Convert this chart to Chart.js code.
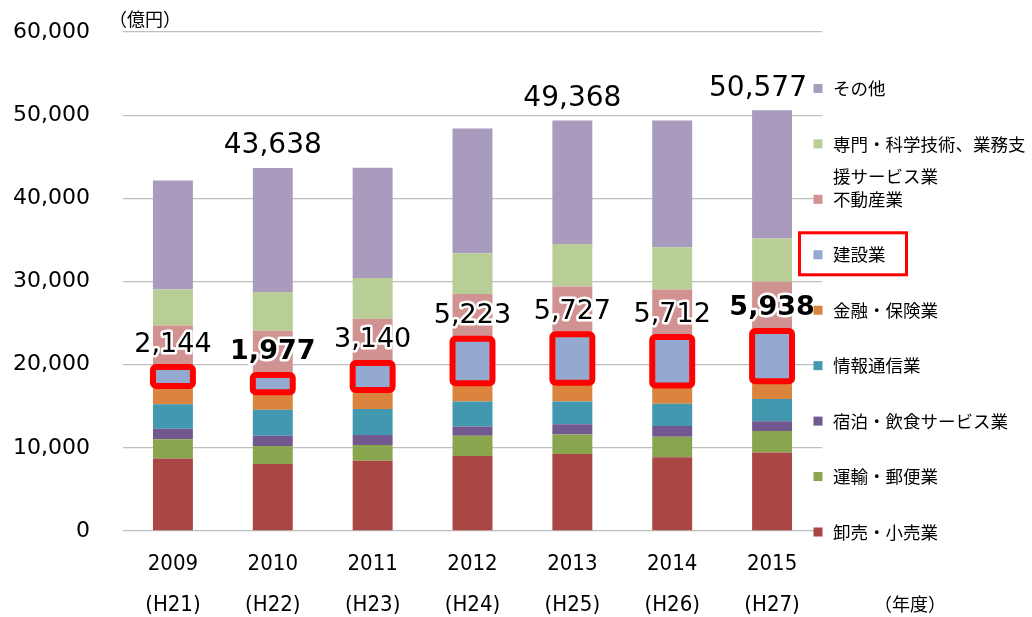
<!DOCTYPE html>
<html>
<head>
<meta charset="utf-8">
<script src="https://cdn.jsdelivr.net/npm/chart.js@4.4.1/dist/chart.umd.min.js"></script>
<style>
  html, body { margin: 0; padding: 0; background: #fff; }
  #wrap { width: 1032px; height: 617px; }
</style>
</head>
<body>
<div id="wrap"><canvas id="gdpcanvas" width="1032" height="617"></canvas></div>
<script>
// 年度ラベル
let years = ['2009', '2010', '2011', '2012', '2013', '2014', '2015'];
let heisei = ['(H21)', '(H22)', '(H23)', '(H24)', '(H25)', '(H26)', '(H27)'];

// 業種名（下から積み上げる順）
let industryNames = [
    '卸売・小売業',
    '運輸・郵便業',
    '宿泊・飲食サービス業',
    '情報通信業',
    '金融・保険業',
    '建設業',
    '不動産業',
    '専門・科学技術、業務支援サービス業',
    'その他'
];

// 各業種の値（億円）
let wholesaleRetail = [8710, 8070, 8460, 9030, 9270, 8870, 9430];
let transportPostal = [2330, 2160, 1890, 2410, 2320, 2450, 2580];
let hotelFood       = [1240, 1210, 1200, 1120, 1250, 1320, 1200];
let infoComm        = [2970, 3130, 3130, 3010, 2720, 2650, 2650];
let financeInsur    = [2260, 2160, 2330, 2250, 2320, 2260, 2200];
let construction    = [2144, 1977, 3140, 5223, 5727, 5712, 5938];
let realEstate      = [5070, 5380, 5370, 5460, 5800, 5790, 5980];
let professional    = [4300, 4660, 4900, 4890, 5110, 5060, 5180];
let others          = [13120, 14891, 13250, 15010, 14851, 15250, 15419];

// 合計を表示する年度と、建設業の値を太字にする年度
let totalShownFor = [1, 4, 6];
let boldConstructionFor = [1, 6];

let seriesValues = [wholesaleRetail, transportPostal, hotelFood, infoComm, financeInsur,
    construction, realEstate, professional, others];
let seriesColors = ['#AA4643', '#89A54E', '#71588F', '#4198AF', '#DB843D',
    '#93A9CF', '#D19392', '#B9CD96', '#A99BBD'];
let constructionIndex = 5;

let datasets = [];
for (let i = 0; i < industryNames.length; i++) {
    datasets.push({
        label: industryNames[i],
        data: seriesValues[i],
        backgroundColor: seriesColors[i],
        borderWidth: 0,
        barPercentage: 0.4,
        categoryPercentage: 1.0
    });
}

function fmt(v) {
    return Math.round(v).toLocaleString('en-US');
}

// 白い縁取り付きの文字
function haloText(ctx, text, x, y) {
    ctx.lineWidth = 5;
    ctx.strokeStyle = '#ffffff';
    ctx.lineJoin = 'round';
    ctx.strokeText(text, x, y);
    ctx.fillStyle = '#000000';
    ctx.fillText(text, x, y);
}

let overlayPlugin = {
    id: 'overlay',
    afterDatasetsDraw(chart) {
        let ctx = chart.ctx;
        let area = chart.chartArea;
        let consMeta = chart.getDatasetMeta(constructionIndex);
        let topMeta = chart.getDatasetMeta(datasets.length - 1);

        ctx.save();
        // 建設業の赤枠
        consMeta.data.forEach(function(bar) {
            let w = bar.width;
            ctx.beginPath();
            ctx.roundRect(bar.x - w / 2, bar.y - 0.5, w, bar.base - bar.y + 1, 3);
            ctx.lineWidth = 6;
            ctx.strokeStyle = '#FF0000';
            ctx.stroke();
        });

        // 建設業の値
        ctx.textAlign = 'center';
        ctx.textBaseline = 'middle';
        consMeta.data.forEach(function(bar, i) {
            let bold = boldConstructionFor.indexOf(i) >= 0;
            ctx.font = (bold ? 'bold ' : '') + '27px "DejaVu Sans"';
            haloText(ctx, fmt(construction[i]), bar.x, bar.y - 23);
        });

        // 合計値
        ctx.font = '28px "DejaVu Sans"';
        totalShownFor.forEach(function(i) {
            let total = 0;
            seriesValues.forEach(function(s) { total += s[i]; });
            let bar = topMeta.data[i];
            let text = fmt(total);
            let w = ctx.measureText(text).width;
            let x = Math.min(bar.x, area.right - 15 - w / 2);
            haloText(ctx, text, x, bar.y - 22);
        });
        ctx.restore();
    },
    afterDraw(chart) {
        let ctx = chart.ctx;
        let area = chart.chartArea;
        let step = area.height / industryNames.length;
        let sqX = area.right - 4;
        let textX = sqX + 15;
        let maxW = chart.width - textX - 4;

        ctx.save();
        ctx.font = '17.5px "Noto Sans CJK JP"';
        ctx.textAlign = 'left';
        ctx.textBaseline = 'middle';
        for (let i = 0; i < industryNames.length; i++) {
            let y = area.bottom + 1 - i * step;
            ctx.fillStyle = seriesColors[i];
            ctx.fillRect(sqX - 4.5, y - 4.5, 9, 9);

            // 長い名前は折り返す
            let lines = [];
            let cur = '';
            for (let ch of industryNames[i]) {
                if (ctx.measureText(cur + ch).width > maxW) {
                    lines.push(cur);
                    cur = ch;
                } else {
                    cur += ch;
                }
            }
            lines.push(cur);
            ctx.fillStyle = '#000000';
            lines.forEach(function(line, k) {
                ctx.fillText(line, textX, y + k * 32);
            });

            if (i === constructionIndex) {
                let w = ctx.measureText(industryNames[i]).width;
                ctx.lineWidth = 3;
                ctx.strokeStyle = '#FF0000';
                ctx.strokeRect(sqX - 18.5, y - 22, textX + w + 21 - (sqX - 18.5), 42);
            }
        }

        // 単位
        ctx.font = '18px "Noto Sans CJK JP"';
        ctx.fillText('（億円）', area.left - 14, 19);
        ctx.fillText('（年度）', area.right + 52, 604);
        ctx.restore();
    }
};

let xLabels = years.map(function(y, i) { return [y, heisei[i]]; });

let barCanvas = document.getElementById('gdpcanvas').getContext('2d');
let barChart = new Chart(barCanvas, {
    type: 'bar',
    data: {
        labels: xLabels,
        datasets: datasets
    },
    options: {
        responsive: false,
        animation: false,
        layout: { padding: { top: 32, right: 210, left: 0, bottom: 0 } },
        plugins: {
            legend: { display: false },
            tooltip: { enabled: false }
        },
        scales: {
            x: {
                stacked: true,
                grid: { display: false },
                border: { display: false },
                ticks: {
                    color: '#000000',
                    padding: 5,
                    maxRotation: 0,
                    font: { family: '"DejaVu Sans Condensed", sans-serif', size: 22, lineHeight: 1.85 }
                },
                afterFit: function(scale) { scale.height = 86; }
            },
            y: {
                stacked: true,
                min: 0,
                max: 60000,
                ticks: {
                    stepSize: 10000,
                    padding: 0,
                    color: '#000000',
                    font: { family: '"DejaVu Sans"', size: 22 },
                    callback: function(v) { return fmt(v); }
                },
                // 目盛り線は透明にして、ラベルとの間隔だけに使う
                grid: { drawTicks: true, tickLength: 33, tickColor: 'rgba(0,0,0,0)', color: '#BFBFBF', lineWidth: 1.3 },
                border: { display: false },
                afterFit: function(scale) { scale.width = 123; }
            }
        }
    },
    plugins: [overlayPlugin]
});
</script>
</body>
</html>
